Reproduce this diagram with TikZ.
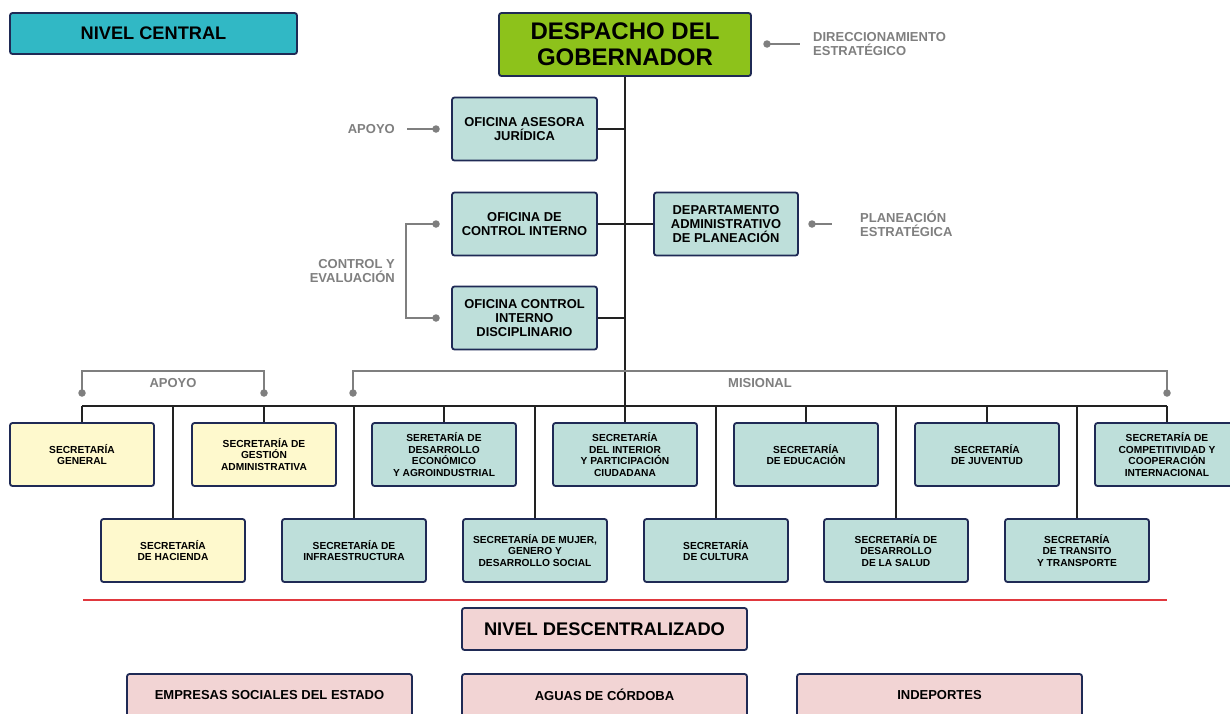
\documentclass[tikz,border=0pt]{standalone}
\usepackage{fontspec}
\setmainfont{Liberation Sans}
\definecolor{navy}{HTML}{1F2A55}
\definecolor{tealbox}{HTML}{BEDFDA}
\definecolor{yelbox}{HTML}{FEF9CD}
\definecolor{greenbox}{HTML}{8DC21B}
\definecolor{cyanbox}{HTML}{31B8C5}
\definecolor{pinkbox}{HTML}{F2D4D4}
\definecolor{lbl}{HTML}{7F7F7F}
\definecolor{conn}{HTML}{222222}
\definecolor{redline}{HTML}{E0383E}
\tikzset{
  box/.style={draw=navy, line width=1.8pt, rounded corners=2.5pt, align=center, inner sep=0pt, font=\bfseries},
  office/.style={box, fill=tealbox, minimum width=145, minimum height=63, font=\bfseries\fontsize{12.9}{14.2}\selectfont},
  secm/.style={box, fill=tealbox, minimum width=144, minimum height=63, font=\bfseries\fontsize{10.2}{11.9}\selectfont},
  secy/.style={secm, fill=yelbox},
  pinkb/.style={box, fill=pinkbox, minimum width=285, font=\bfseries\fontsize{13}{15}\selectfont},
  lab/.style={text=lbl, font=\bfseries\fontsize{13}{14.2}\selectfont, inner sep=0pt},
  wire/.style={draw=conn, line width=2pt},
  gwire/.style={draw=lbl, line width=2pt},
  gdot/.style={circle, fill=lbl, inner sep=0pt, minimum size=7.5},
}
\begin{document}
\begin{tikzpicture}[x=1pt,y=-1pt]
\useasboundingbox (0,0) rectangle (1230,713);
\fill[white] (0,0) rectangle (1230,713);

% header boxes
\node[box, fill=cyanbox, minimum width=287, minimum height=41, font=\bfseries\fontsize{18.2}{20}\selectfont] (nc) at (153.5,33.5) {NIVEL CENTRAL};
\node[box, fill=greenbox, minimum width=252, minimum height=63, font=\bfseries\fontsize{24}{26}\selectfont] (desp) at (625,44.5) {DESPACHO DEL\\GOBERNADOR};

% direccionamiento
\coordinate (dd) at (767,44);
\coordinate (de) at (800,44);
\draw[gwire] (dd) -- (de);
\node[gdot] at (dd) {};
\node[lab, anchor=west, align=left] (dirtxt) at (813,44) {DIRECCIONAMIENTO\\ESTRATÉGICO};

% offices
\node[office] (oaj) at (524.5,129) {OFICINA ASESORA\\JURÍDICA};
\node[office] (oci) at (524.5,224) {OFICINA DE\\CONTROL INTERNO};
\node[office] (ocid) at (524.5,318) {OFICINA CONTROL\\INTERNO\\DISCIPLINARIO};
\node[office, minimum width=144] (dap) at (726,224) {DEPARTAMENTO\\ADMINISTRATIVO\\DE PLANEACIÓN};

% trunk
\coordinate (busT) at (625,406);
\draw[wire] (desp.south) -- (busT);
\draw[wire] (oaj.east) -- (oaj.east -| desp.south);
\draw[wire] (oci.east) -- (dap.west);
\draw[wire] (ocid.east) -- (ocid.east -| desp.south);

% apoyo label (oficina)
\node[lab, anchor=east] (apo1) at (395,129) {APOYO};
\coordinate (a1s) at (407,129);
\coordinate (a1e) at (436,129);
\draw[gwire] (a1s) -- (a1e);
\node[gdot] at (a1e) {};

% planeacion label
\coordinate (pd) at (812,224);
\coordinate (pe) at (832,224);
\draw[gwire] (pd) -- (pe);
\node[gdot] at (pd) {};
\node[lab, anchor=west, align=left] (plan) at (860,224) {PLANEACIÓN\\ESTRATÉGICA};

% control y evaluacion bracket
\coordinate (ce1) at (436,224);
\coordinate (ce2) at (436,318);
\draw[gwire] (ce1) -- (406,224) -- (406,318) -- (ce2);
\node[gdot] at (ce1) {};
\node[gdot] at (ce2) {};
\node[lab, anchor=east, align=right] (cetxt) at (395,271) {CONTROL Y\\EVALUACIÓN};

% bus
\coordinate (busL) at (82,406);
\coordinate (busR) at (1167,406);
\draw[wire] (busL) -- (busR);

% secretariats top row
\node[secy] (sg) at (82,454.5) {SECRETARÍA\\GENERAL};
\node[secy] (sga) at (264,454.5) {SECRETARÍA DE\\GESTIÓN\\ADMINISTRATIVA};
\node[secm] (sde) at (444,454.5) {SERETARÍA DE\\DESARROLLO\\ECONÓMICO\\Y AGROINDUSTRIAL};
\node[secm] (sint) at (625,454.5) {SECRETARÍA\\DEL INTERIOR\\Y PARTICIPACIÓN\\CIUDADANA};
\node[secm] (sed) at (806,454.5) {SECRETARÍA\\DE EDUCACIÓN};
\node[secm] (sju) at (987,454.5) {SECRETARÍA\\DE JUVENTUD};
\node[secm] (scom) at (1167,454.5) {SECRETARÍA DE\\COMPETITIVIDAD Y\\COOPERACIÓN\\INTERNACIONAL};

% secretariats bottom row
\node[secy] (sha) at (173,550.5) {SECRETARÍA\\DE HACIENDA};
\node[secm] (sinf) at (354,550.5) {SECRETARÍA DE\\INFRAESTRUCTURA};
\node[secm] (smu) at (535,550.5) {SECRETARÍA DE MUJER,\\GENERO Y\\DESARROLLO SOCIAL};
\node[secm] (scu) at (716,550.5) {SECRETARÍA\\DE CULTURA};
\node[secm] (ssa) at (896,550.5) {SECRETARÍA DE\\DESARROLLO\\DE LA SALUD};
\node[secm] (str) at (1077,550.5) {SECRETARÍA\\DE TRANSITO\\Y TRANSPORTE};

\foreach \n in {sg,sga,sde,sint,sed,sju,scom,sha,sinf,smu,scu,ssa,str}
  \draw[wire] (\n.north) -- (\n.north |- busL);

% apoyo bracket
\coordinate (ab1) at (82,393);
\coordinate (ab2) at (264,393);
\draw[gwire] (ab1) -- (82,371) -- (264,371) -- (ab2);
\node[gdot] at (ab1) {};
\node[gdot] at (ab2) {};
\node[lab] (apo2) at (173,383) {APOYO};

% misional bracket
\coordinate (mb1) at (353,393);
\coordinate (mb2) at (1167,393);
\draw[gwire] (mb1) -- (353,371) -- (1167,371) -- (mb2);
\node[gdot] at (mb1) {};
\node[gdot] at (mb2) {};
\node[lab] (mis) at (760,383) {MISIONAL};

% red separator
\coordinate (r1) at (83,600);
\coordinate (r2) at (1167,600);
\draw[redline, line width=1.5pt] (r1) -- (r2);

% decentralized
\node[pinkb, minimum height=42, font=\bfseries\fontsize{18.3}{20}\selectfont] (ndes) at (604.5,629) {NIVEL DESCENTRALIZADO};
\node[pinkb, minimum height=60] (ese) at (269.5,704) {\raisebox{19pt}{EMPRESAS SOCIALES DEL ESTADO}};
\node[pinkb, minimum height=60] (agu) at (604.5,704) {\raisebox{19pt}{AGUAS DE CÓRDOBA}};
\node[pinkb, minimum height=60] (ind) at (939.5,704) {\raisebox{19pt}{INDEPORTES}};
\end{tikzpicture}
\end{document}
